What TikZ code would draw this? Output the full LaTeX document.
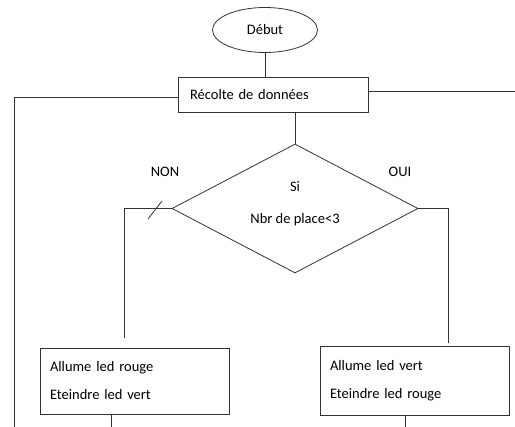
\documentclass[tikz,border=0pt]{standalone}
\usepackage{fontspec}
\setmainfont{Carlito}
\usepackage{tikz}
\usetikzlibrary{shapes.geometric}
\tikzset{%
  every block/.style={
    draw=black!80,
    line width=0.8pt,
    font=\fontsize{14.5}{17}\selectfont
  },
  start block/.style={
    every block,
    ellipse,
    minimum width=105pt,
    minimum height=45pt,
    inner sep=0pt
  },
  process block/.style={
    every block,
    rectangle,
    minimum width=190pt,
    minimum height=35pt,
    text width=166pt,
    inner xsep=12pt,
    align=left
  },
  test block/.style={
    every block,
    diamond,
    minimum width=246pt,
    minimum height=129pt,
    inner sep=0pt
  },
  action block/.style={
    every block,
    rectangle,
    minimum width=189pt,
    text width=169pt,
    inner xsep=10pt,
    align=left
  },
  flow line/.style={
    draw=black!80,
    line width=0.8pt
  },
  block text/.style={
    font=\fontsize{14.5}{17}\selectfont,
    align=center
  },
}
\begin{document}
\begin{tikzpicture}[x=1pt, y=-1pt]
\useasboundingbox (0,0) rectangle (515,427);
% blocks
\node[start block] (debut) at (265,30) {Début};
\node[process block] (recolte) at (273,94.5) {Récolte de données};
\node[test block] (test) at (295,208.5) {};
\node[block text] (testtext) at (295,203.5) {Si\\[15pt]Nbr de place<3};
\node[action block, minimum height=66pt] (rouge) at (134.5,381) {Allume led rouge\\[11pt]Eteindre led vert};
\node[action block, minimum height=69pt] (vert) at (414.5,380.5) {Allume led vert\\[11pt]Eteindre led rouge};
\node[block text] (non) at (165,172) {NON};
\node[block text] (oui) at (400,172) {OUI};
% free ends
\coordinate (leftout) at (14,427);
\coordinate (rightout) at (515,91);
\coordinate (nonend) at (124,338);
\coordinate (ouiend) at (448,343);
\coordinate (rougeout) at (111,427);
\coordinate (vertout) at (405,427);
% connectors
\draw[flow line] (debut.south) -- (debut.south |- recolte.north);
\draw[flow line] ([yshift=-2.5pt]recolte.west) -| (leftout);
\draw[flow line] ([yshift=3.5pt]recolte.east) -- (rightout);
\draw[flow line] (test.north |- recolte.south) -- (test.north);
\draw[flow line] (test.west) -| (nonend);
\draw[flow line] (test.east) -| (ouiend);
\draw[flow line] (rougeout |- rouge.south) -- (rougeout);
\draw[flow line] (vertout |- vert.south) -- (vertout);
% tick on the NON branch
\draw[flow line] (148,219) -- (162,201);
\end{tikzpicture}
\end{document}
